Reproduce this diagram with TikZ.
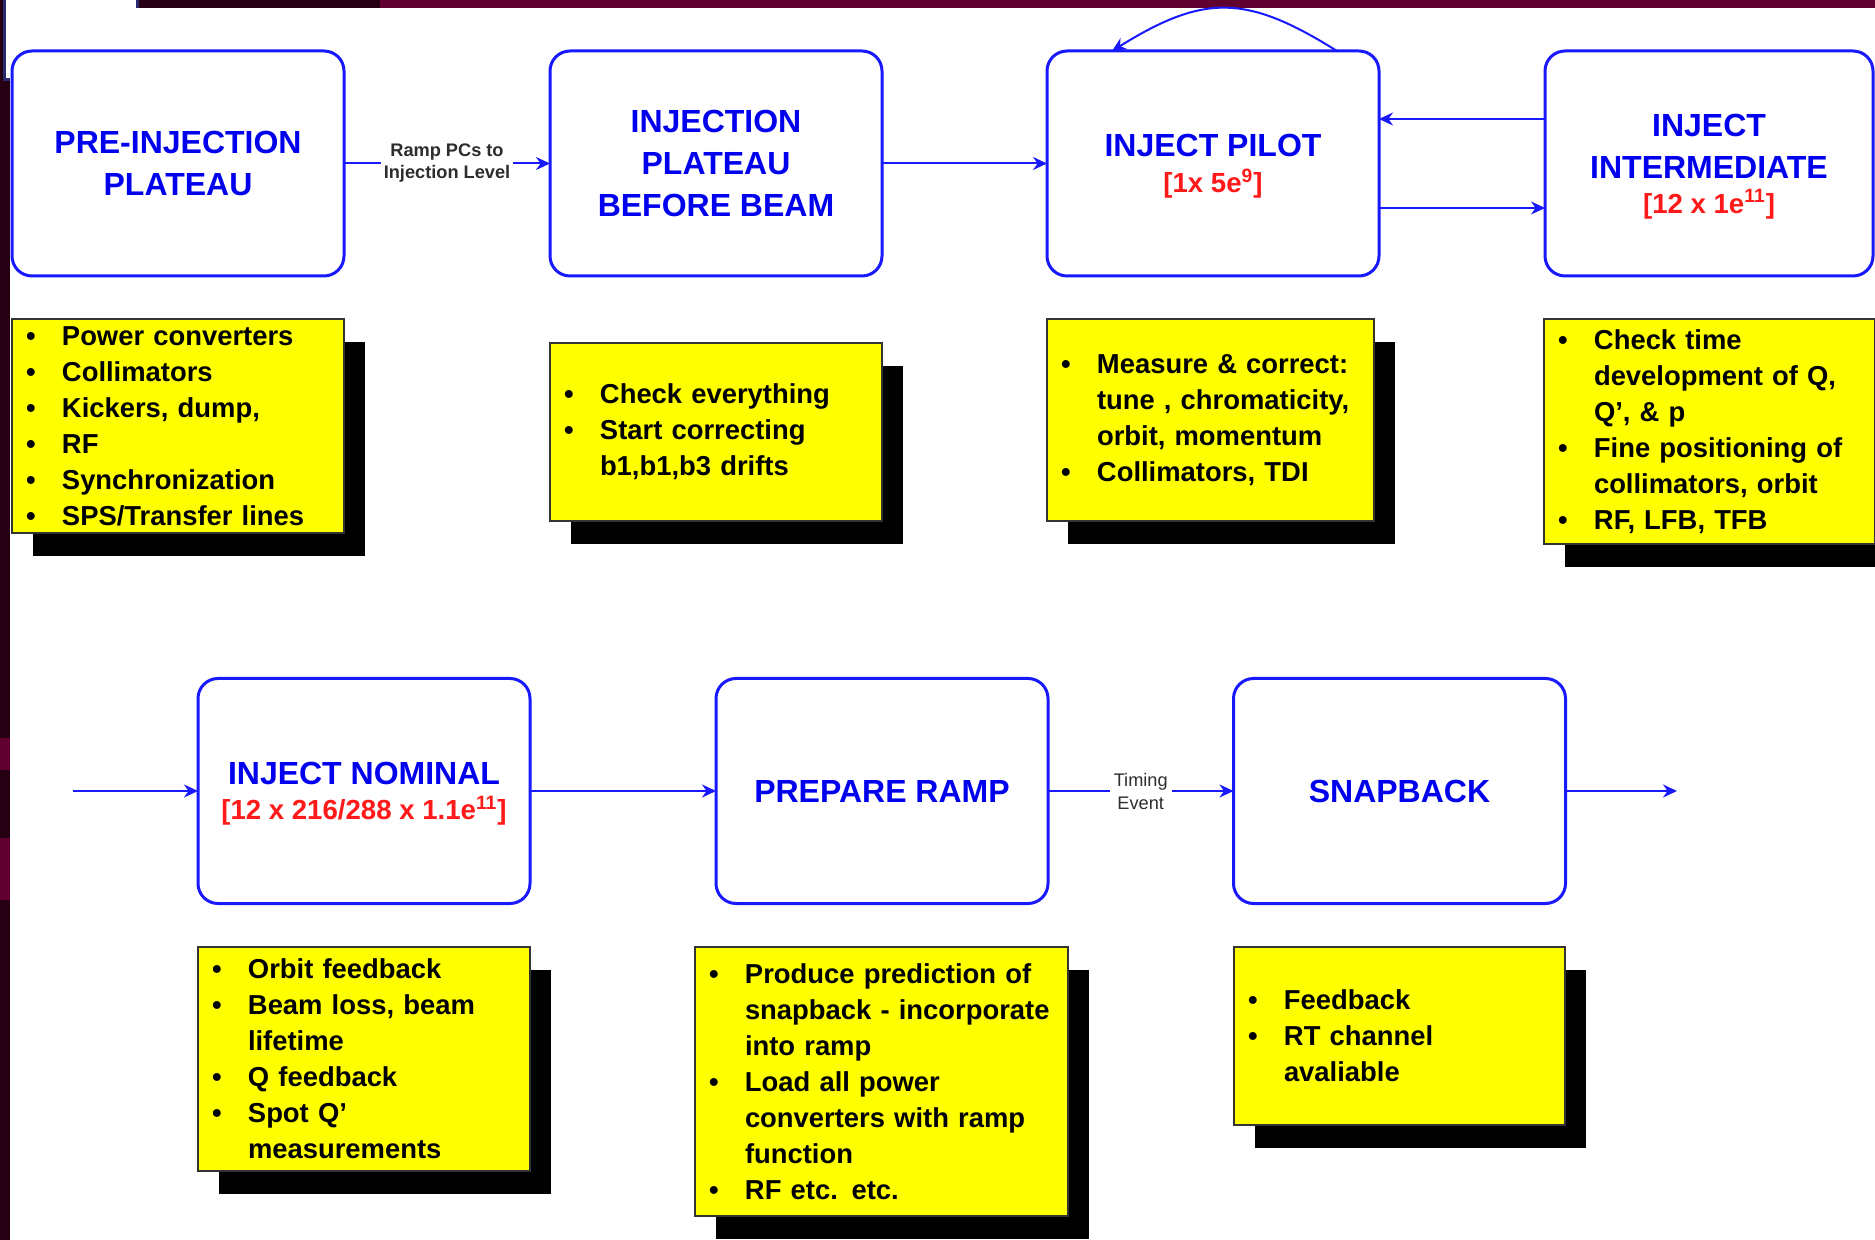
\documentclass[tikz,border=0pt]{standalone}
\usepackage{fontspec}
\setmainfont{Liberation Sans}
\usetikzlibrary{arrows.meta,shadows}
\definecolor{bblue}{RGB}{25,25,255}
\definecolor{ttblue}{RGB}{0,0,238}
\definecolor{rred}{RGB}{255,25,25}
\definecolor{ylw}{RGB}{255,255,0}
\definecolor{mar1}{RGB}{38,0,18}
\definecolor{mar2}{RGB}{96,0,48}
\definecolor{navyc}{RGB}{40,40,110}
\definecolor{lblgray}{RGB}{45,45,45}
\newcommand\redsub[1]{\raisebox{0pt}[\height][0pt]{\color{rred}\fontsize{13.8}{18}\selectfont #1}}
\newcommand\bl[1]{\mbox{\makebox[18pt][l]{\textbullet}#1}}
\newcommand\cl[1]{\mbox{\hspace*{18pt}#1}}
\tikzset{
  stage/.style={draw=bblue, line width=1.5pt, rounded corners=10pt, fill=white,
    minimum width=166pt, minimum height=112.5pt, outer sep=0pt, inner sep=0pt,
    align=center, text=ttblue, font=\bfseries\fontsize{16}{21}\selectfont},
  note/.style={draw=black!80, line width=0.6pt, fill=ylw, outer sep=0pt,
    general shadow={fill=black, shadow xshift=10.5pt, shadow yshift=-11.5pt},
    anchor=north west, align=left, inner xsep=7pt, inner ysep=0pt,
    text=black, font=\bfseries\fontsize{13.7}{18}\selectfont},
  flow/.style={draw=bblue, line width=1pt, -{Stealth[length=7pt,width=6.5pt]}},
  elabel/.style={fill=white, align=center, inner ysep=1pt, text=lblgray}
}
\begin{document}
\begin{tikzpicture}[x=0.5pt,y=-0.5pt]
\useasboundingbox (0,0) rectangle (1875,1240);
% slide background
\fill[mar1] (0,0) rectangle (1875,1240);
\fill[mar2] (380,0) rectangle (1875,8);
\fill[mar2] (0,738) rectangle (10,770);
\fill[mar2] (0,838) rectangle (10,900);
\filldraw[fill=white, draw=navyc, line width=1.5pt] (4,-4) rectangle (137,80);
\fill[white] (10,8) rectangle (1875,1240);

% stage boxes
\node[stage] (pre) at (178,163.5) {PRE-INJECTION\\PLATEAU};
\node[stage] (plat) at (716,163.5) {INJECTION\\PLATEAU\\BEFORE BEAM};
\node[stage] (pilot) at (1213,163.5) {INJECT PILOT\\[-3pt]\redsub{[1x 5e\textsuperscript{9}]}};
\node[stage, minimum width=164pt] (inter) at (1709,163.5) {INJECT\\INTERMEDIATE\\[-3.5pt]\redsub{[12 x 1e\textsuperscript{11}]}};
\node[stage] (nominal) at (364,791) {INJECT NOMINAL\\[-3.5pt]\redsub{[12 x 216/288 x 1.1e\textsuperscript{11}]}};
\node[stage] (ramp) at (882,791) {PREPARE RAMP};
\node[stage] (snap) at (1399.5,791) {SNAPBACK};

% notes
\node[note, minimum width=166pt, minimum height=107pt, text width=152pt] (n1) at (12,319)
  {\bl{Power converters}\\\bl{Collimators}\\\bl{Kickers, dump,}\\\bl{RF}\\\bl{Synchronization}\\\bl{SPS/Transfer lines}};
\node[note, minimum width=166pt, minimum height=89pt, text width=152pt] (n2) at (550,343)
  {\bl{Check everything}\\\bl{Start correcting}\\\cl{b1,b1,b3 drifts}};
\node[note, minimum width=163.5pt, minimum height=101pt, text width=149.5pt] (n3) at (1047,319)
  {\bl{Measure \& correct:}\\\cl{tune , chromaticity,}\\\cl{orbit, momentum}\\\bl{Collimators, TDI}};
\node[note, minimum width=165.5pt, minimum height=112.5pt, text width=151.5pt] (n4) at (1544,319)
  {\bl{Check time}\\\cl{development of Q,}\\\cl{Q’, \& p}\\\bl{Fine positioning of}\\\cl{collimators, orbit}\\\bl{RF, LFB, TFB}};
\node[note, minimum width=166pt, minimum height=112pt, text width=152pt] (n5) at (198,947)
  {\bl{Orbit feedback}\\\bl{Beam loss, beam}\\\cl{lifetime}\\\bl{Q feedback}\\\bl{Spot Q’}\\\cl{measurements}};
\node[note, minimum width=186.5pt, minimum height=134.5pt, text width=172.5pt] (n6) at (695,947)
  {\bl{Produce prediction of}\\\cl{snapback - incorporate}\\\cl{into ramp}\\\bl{Load all power}\\\cl{converters with ramp}\\\cl{function}\\\bl{RF etc. etc.}};
\node[note, minimum width=165.5pt, minimum height=89pt, text width=151.5pt] (n7) at (1234,947)
  {\bl{Feedback}\\\bl{RT channel}\\\cl{avaliable}};

% connectors
\draw[flow] (pre) -- node[elabel, inner xsep=1.5pt, font=\bfseries\fontsize{9.1}{11}\selectfont]{Ramp PCs to\\Injection Level} (plat);
\draw[flow] (plat) -- (pilot);
\draw[flow] ([yshift=22.25pt]inter.west) -- ([yshift=22.25pt]pilot.east);
\draw[flow] ([yshift=-22.25pt]pilot.east) -- ([yshift=-22.25pt]inter.west);
\draw[flow] ([xshift=62pt]pilot.north) .. controls ([xshift=16.5pt,yshift=28.5pt]pilot.north) and ([xshift=-4.5pt,yshift=28.5pt]pilot.north) .. ([xshift=-50.5pt]pilot.north);
\coordinate (inpt) at (73,791);
\coordinate (outpt) at (1677,791);
\draw[flow] (inpt) -- (nominal);
\draw[flow] (nominal) -- (ramp);
\draw[flow] (ramp) -- node[elabel, inner xsep=2pt, font=\fontsize{9.1}{11.5}\selectfont]{Timing\\Event} (snap);
\draw[flow] (snap) -- (outpt);
\end{tikzpicture}
\end{document}
